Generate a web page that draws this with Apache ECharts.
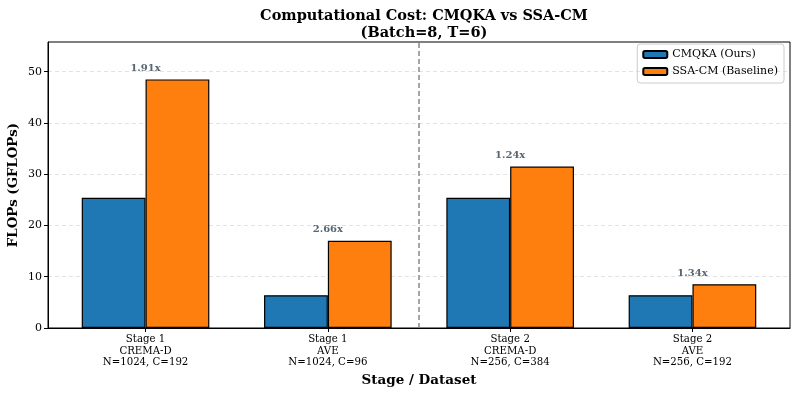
<!DOCTYPE html>
<html>
<head>
<meta charset="utf-8">
<script src="https://cdn.jsdelivr.net/npm/echarts@6/dist/echarts.min.js"></script>
<style>
  html, body { margin: 0; padding: 0; background: #fff; }
  #chart { width: 798px; height: 394px; }
</style>
</head>
<body>
<div id="chart"></div>
<script>
// data
var categories = ['Stage 1\nCREMA-D\nN=1024, C=192', 'Stage 1\nAVE\nN=1024, C=96',
                  'Stage 2\nCREMA-D\nN=256, C=384', 'Stage 2\nAVE\nN=256, C=192']
var cmqka = [25.4, 6.4, 25.4, 6.4]
var ssacm = [48.5, 17.0, 31.5, 8.55]
var ratioLabels = ['1.91x', '2.66x', '1.24x', '1.34x']
var yTicks = [0, 10, 20, 30, 40, 50]

var font = 'DejaVu Serif'
var w = 0.35
var xMin = -0.535, xMax = 3.535
var gridLeft = 48, gridRight = 8
var barPx = (798 - gridLeft - gridRight) / (xMax - xMin) * w

var chart = echarts.init(document.getElementById('chart'))

chart.setOption({
  animation: false,
  title: {
    text: 'Computational Cost: CMQKA vs SSA-CM\n(Batch=8, T=6)',
    left: 419,
    textAlign: 'center',
    top: 3,
    textStyle: {
      fontFamily: font,
      fontWeight: 'bold',
      fontSize: 14.5,
      lineHeight: 17,
      color: '#000'
    }
  },
  legend: {
    orient: 'vertical',
    right: 14,
    top: 44,
    itemWidth: 24,
    itemHeight: 7,
    itemGap: 6,
    padding: [5, 6, 6, 5],
    borderColor: '#ccc',
    borderWidth: 1,
    borderRadius: 3,
    data: ['CMQKA (Ours)', 'SSA-CM (Baseline)'],
    textStyle: { fontFamily: font, fontSize: 11, color: '#000' }
  },
  grid: {
    left: gridLeft,
    right: gridRight,
    top: 42,
    bottom: 66,
    outerBoundsMode: 'none',
    containLabel: false,
    show: true,
    borderColor: '#000',
    borderWidth: 1
  },
  xAxis: {
    type: 'value',
    min: xMin,
    max: xMax,
    name: 'Stage / Dataset',
    nameLocation: 'middle',
    nameGap: 45,
    nameMoveOverlap: false,
    nameTextStyle: { fontFamily: font, fontWeight: 'bold', fontSize: 13.5, color: '#000' },
    axisLine: { show: true, onZero: false, lineStyle: { color: '#000' } },
    axisTick: { show: true, length: 4, customValues: [0, 1, 2, 3], lineStyle: { color: '#000' } },
    axisLabel: {
      customValues: [0, 1, 2, 3],
      formatter: function (v) { return categories[Math.round(v)] },
      fontFamily: font,
      fontSize: 10.2,
      lineHeight: 11.5,
      color: '#000',
      margin: 6
    },
    splitLine: { show: false }
  },
  yAxis: {
    type: 'value',
    min: 0,
    max: 55.8,
    interval: 10,
    name: 'FLOPs (GFLOPs)',
    nameLocation: 'middle',
    nameGap: 28,
    nameMoveOverlap: false,
    nameTextStyle: { fontFamily: font, fontWeight: 'bold', fontSize: 13.3, color: '#000' },
    axisLine: { show: true, onZero: false, lineStyle: { color: '#000' } },
    axisTick: { show: true, length: 4, customValues: yTicks, lineStyle: { color: '#000' } },
    axisLabel: { customValues: yTicks, fontFamily: font, fontSize: 11, color: '#000', margin: 6 },
    splitLine: { show: true, lineStyle: { color: '#e3e3e3', type: [4, 3] } }
  },
  series: [{
    name: 'CMQKA (Ours)',
    type: 'bar',
    barWidth: barPx,
    barGap: '-100%',
    itemStyle: { color: '#1f77b4', borderColor: '#000', borderWidth: 1.2 },
    data: cmqka.map(function (v, i) { return [i - w / 2, v] })
  }, {
    name: 'SSA-CM (Baseline)',
    type: 'bar',
    barWidth: barPx,
    barGap: '-100%',
    itemStyle: { color: '#ff7f0e', borderColor: '#000', borderWidth: 1.2 },
    data: ssacm.map(function (v, i) { return [i + w / 2, v] }),
    markLine: {
      symbol: 'none',
      silent: true,
      label: { show: false },
      lineStyle: { color: '#888', type: [5, 3], width: 1.5 },
      data: [{ xAxis: 1.5 }]
    }
  }, {
    name: 'ratio',
    type: 'scatter',
    symbolSize: 0,
    silent: true,
    label: {
      show: true,
      position: 'top',
      distance: 1,
      formatter: function (p) { return ratioLabels[p.dataIndex] },
      fontFamily: font,
      fontWeight: 'bold',
      fontSize: 10,
      color: '#2c3e50'
    },
    data: ssacm.map(function (v, i) { return [i, v + 1] })
  }]
})
</script>
</body>
</html>
